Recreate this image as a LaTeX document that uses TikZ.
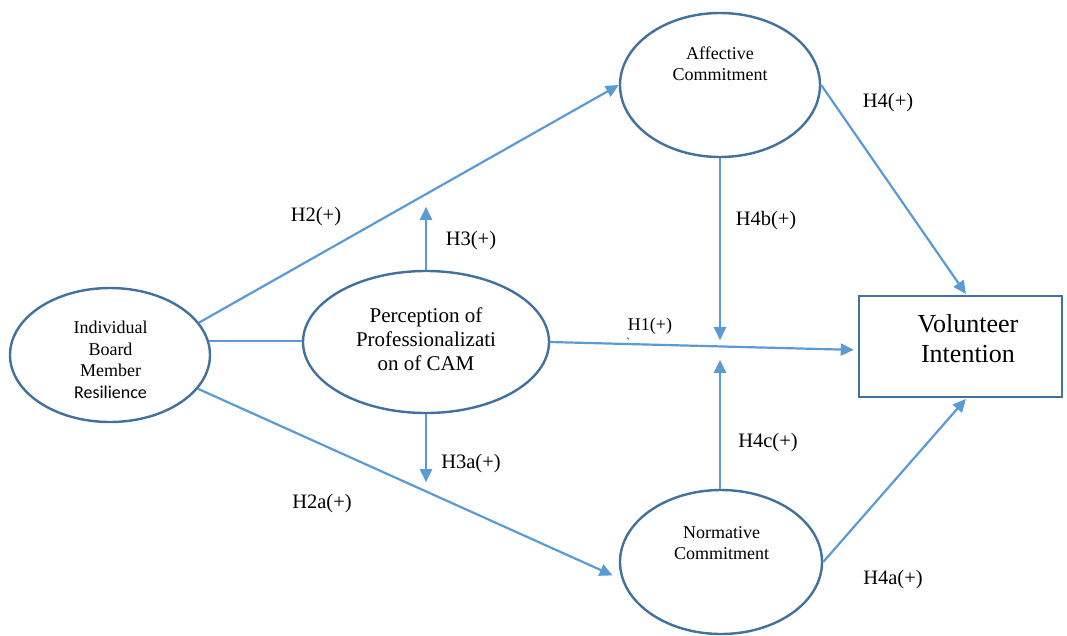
\documentclass[tikz,border=0pt]{standalone}
\usepackage{fontspec}
\setmainfont{Liberation Serif}
\newfontfamily\carl{Carlito}
\usetikzlibrary{arrows.meta,shapes.geometric}
\definecolor{edgeblue}{HTML}{41719C}
\definecolor{arrowblue}{HTML}{5B9BD5}
\tikzset{
  construct/.style={ellipse,draw=edgeblue,line width=2.4pt,inner sep=0pt,minimum width=#1},
  boxnode/.style={rectangle,draw=edgeblue,line width=2.4pt,inner sep=0pt},
  link/.style={draw=arrowblue,line width=2.2pt},
  arr/.style={link,-{Triangle[length=13pt,width=12pt]}},
  lbl/.style={anchor=base,inner sep=0pt,font=\fontsize{20.5}{24}\selectfont},
  txt/.style={align=center,inner sep=0pt}
}
\begin{document}
\begin{tikzpicture}[x=1pt,y=-1pt]
\useasboundingbox[fill=white] (0,0) rectangle (1067,635);
% constructs
\node[construct=200pt,minimum height=134pt] (ibmr) at (110,355) {};
\node[construct=246pt,minimum height=142pt] (perc) at (426,342) {};
\node[construct=200pt,minimum height=144pt] (aff) at (720,85) {};
\node[construct=202pt,minimum height=144pt] (norm) at (721,562) {};
\node[boxnode,minimum width=203pt,minimum height=101pt] (vi) at (960.5,346.5) {};
% texts
\node[txt,font=\fontsize{18}{21.5}\selectfont] (ibmrtxt) at (110.5,360) {Individual\\Board\\Member\\{\carl Resilience}};
\node[txt,font=\fontsize{21}{24}\selectfont] (perctxt) at (426,339) {Perception of\\Professionalizati\\on of CAM};
\node[txt,font=\fontsize{18}{21}\selectfont] (afftxt) at (720,63.5) {Affective\\Commitment};
\node[txt,font=\fontsize{18}{21.5}\selectfont] (normtxt) at (721.5,543) {Normative\\Commitment};
\node[txt,font=\fontsize{26}{30}\selectfont] (vitxt) at (968,339) {Volunteer\\Intention};
% connectors
\draw[arr] (ibmr.20) -- (aff.west);
\draw[arr,shorten >=10pt] (ibmr.-21) -- (norm.190);
\draw[link] (ibmr.8) -- (ibmr.8 -| perc.west);
\coordinate (h3end) at ([yshift=63pt]perc.north);
\draw[arr] (perc.north) -- (h3end);
\coordinate (h3aend) at ([yshift=-68pt]perc.south);
\draw[arr] (perc.south) -- (h3aend);
\draw[arr,shorten >=4pt] (perc.east) -- ([yshift=-3.5pt]vi.west);
\coordinate (h4bend) at ([yshift=-182pt]aff.south);
\draw[arr] (aff.south) -- (h4bend);
\coordinate (h4cend) at ([yshift=129pt]norm.north -| aff.south);
\draw[arr] (norm.north -| aff.south) -- (h4cend);
\draw[arr,shorten >=1pt] (aff.east) -- ([xshift=6pt]vi.north);
\draw[arr,shorten >=1pt] (norm.east) -- ([xshift=6pt]vi.south);
% labels
\node[lbl] (lh2) at (316,221) {H2(+)};
\node[lbl] (lh2a) at (322,508) {H2a(+)};
\node[lbl] (lh3) at (471,245) {H3(+)};
\node[lbl] (lh3a) at (471,468) {H3a(+)};
\node[lbl,font=\fontsize{18}{21}\selectfont] (lh1) at (650,330) {H1(+)};
\node[lbl,font=\fontsize{12}{14}\selectfont] (tick) at (628,346) {\textasciigrave};
\node[lbl] (lh4b) at (766,225) {H4b(+)};
\node[lbl] (lh4c) at (768,447) {H4c(+)};
\node[lbl] (lh4) at (888,107) {H4(+)};
\node[lbl] (lh4a) at (893,584) {H4a(+)};
\end{tikzpicture}
\end{document}
